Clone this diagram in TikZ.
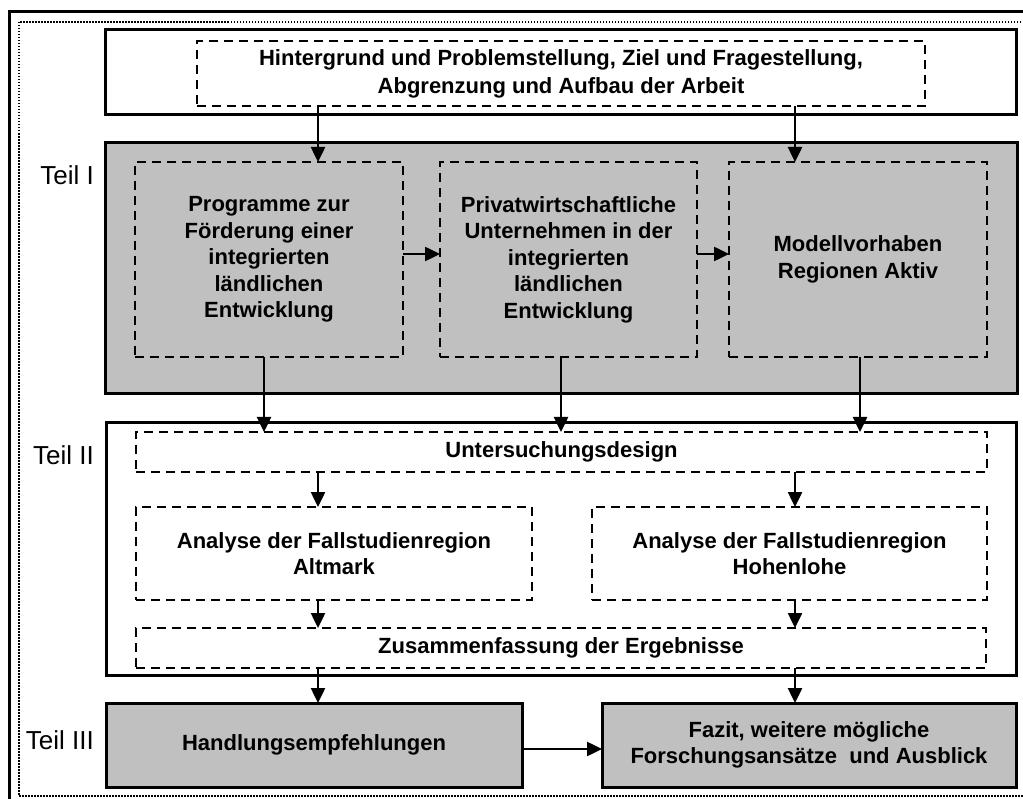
\documentclass[tikz,border=0pt]{standalone}
\usepackage{fontspec}
\setmainfont{Liberation Sans}
\usetikzlibrary{arrows.meta,calc}
\definecolor{boxgray}{RGB}{192,192,192}
\begin{document}
\begin{tikzpicture}[x=1pt,y=-1pt,
  solidbox/.style={draw=black,line width=3pt,rectangle,inner sep=0pt,outer sep=0pt,
    font=\bfseries\fontsize{22}{26.5}\selectfont,align=center},
  graybox/.style={solidbox,fill=boxgray},
  dashbox/.style={draw=black,line width=2pt,dash pattern=on 9pt off 6pt,rectangle,inner sep=0pt,outer sep=0pt,
    font=\bfseries\fontsize{22}{26.5}\selectfont,align=center},
  arr/.style={line width=2.5pt,-{Triangle[length=15pt,width=14pt]}},
  teil/.style={anchor=east,inner sep=0pt,font=\fontsize{26}{30}\selectfont}]
\useasboundingbox (0,0) rectangle (1023,799);
% outer frames
\draw[line width=3pt] (9,805) -- (9,12) -- (1030,12);
\draw[line width=2pt,dash pattern=on 1.5pt off 1.5pt] (1030,22) -- (19,22) -- (19,796) -- (1030,796);
% helper coordinates
\coordinate (xA) at (318,0);
\coordinate (xB) at (795,0);
\coordinate (xC) at (264,0);
\coordinate (xD) at (561,0);
\coordinate (xE) at (860,0);
\coordinate (yA) at (0,254);
\coordinate (yB) at (0,749);
% top
\node[solidbox,minimum width=911,minimum height=85] (top) at (560.5,72.5) {};
\node[dashbox,minimum width=728,minimum height=65] (topd) at (561,73.5)
  {Hintergrund und Problemstellung, Ziel und Fragestellung,\\[1.5pt]Abgrenzung und Aufbau der Arbeit};
% Teil I
\node[graybox,minimum width=912,minimum height=251] (t1) at (561,268.5) {};
\node[dashbox,minimum width=268,minimum height=195] (p1) at (269,259.5)
  {Programme zur\\F\"orderung einer\\integrierten\\l\"andlichen\\Entwicklung};
\node[dashbox,minimum width=257,minimum height=195] (p2) at (568.5,259.5)
  {Privatwirtschaftliche\\Unternehmen in der\\integrierten\\l\"andlichen\\Entwicklung};
\node[dashbox,minimum width=258,minimum height=195] (p3) at (858,259.5)
  {Modellvorhaben\\Regionen Aktiv};
% Teil II
\node[solidbox,minimum width=910,minimum height=252] (t2) at (561,549) {};
\node[dashbox,minimum width=851,minimum height=40] (u) at (561.5,452) {Untersuchungsdesign};
\node[dashbox,minimum width=396,minimum height=93] (a1) at (334,553.5)
  {Analyse der Fallstudienregion\\Altmark};
\node[dashbox,minimum width=395,minimum height=93] (a2) at (789.5,553.5)
  {Analyse der Fallstudienregion\\Hohenlohe};
\node[dashbox,minimum width=850,minimum height=40] (z) at (561,648) {Zusammenfassung der Ergebnisse};
% Teil III
\node[graybox,minimum width=416,minimum height=84] (h) at (314,745) {Handlungsempfehlungen};
\node[graybox,minimum width=414,minimum height=84] (f) at (809,745)
  {Fazit, weitere m\"ogliche\\Forschungsans\"atze\ \ und Ausblick};
% labels
\node[teil] (l1) at (94,175) {Teil I};
\node[teil] (l2) at (94,455) {Teil II};
\node[teil] (l3) at (94,740) {Teil III};
% arrows
\draw[arr] (topd.south -| xA) -- (p1.north -| xA);
\draw[arr] (topd.south -| xB) -- (p3.north -| xB);
\draw[arr] (p1.east |- yA) -- (p2.west |- yA);
\draw[arr] (p2.east |- yA) -- (p3.west |- yA);
\draw[arr] (p1.south -| xC) -- (u.north -| xC);
\draw[arr] (p2.south -| xD) -- (u.north -| xD);
\draw[arr] (p3.south -| xE) -- (u.north -| xE);
\draw[arr] (u.south -| xA) -- (a1.north -| xA);
\draw[arr] (u.south -| xB) -- (a2.north -| xB);
\draw[arr] (a1.south -| xA) -- (z.north -| xA);
\draw[arr] (a2.south -| xB) -- (z.north -| xB);
\draw[arr] (z.south -| xA) -- (h.north -| xA);
\draw[arr] (z.south -| xB) -- (f.north -| xB);
\draw[arr] (h.east |- yB) -- (f.west |- yB);
\end{tikzpicture}
\end{document}
